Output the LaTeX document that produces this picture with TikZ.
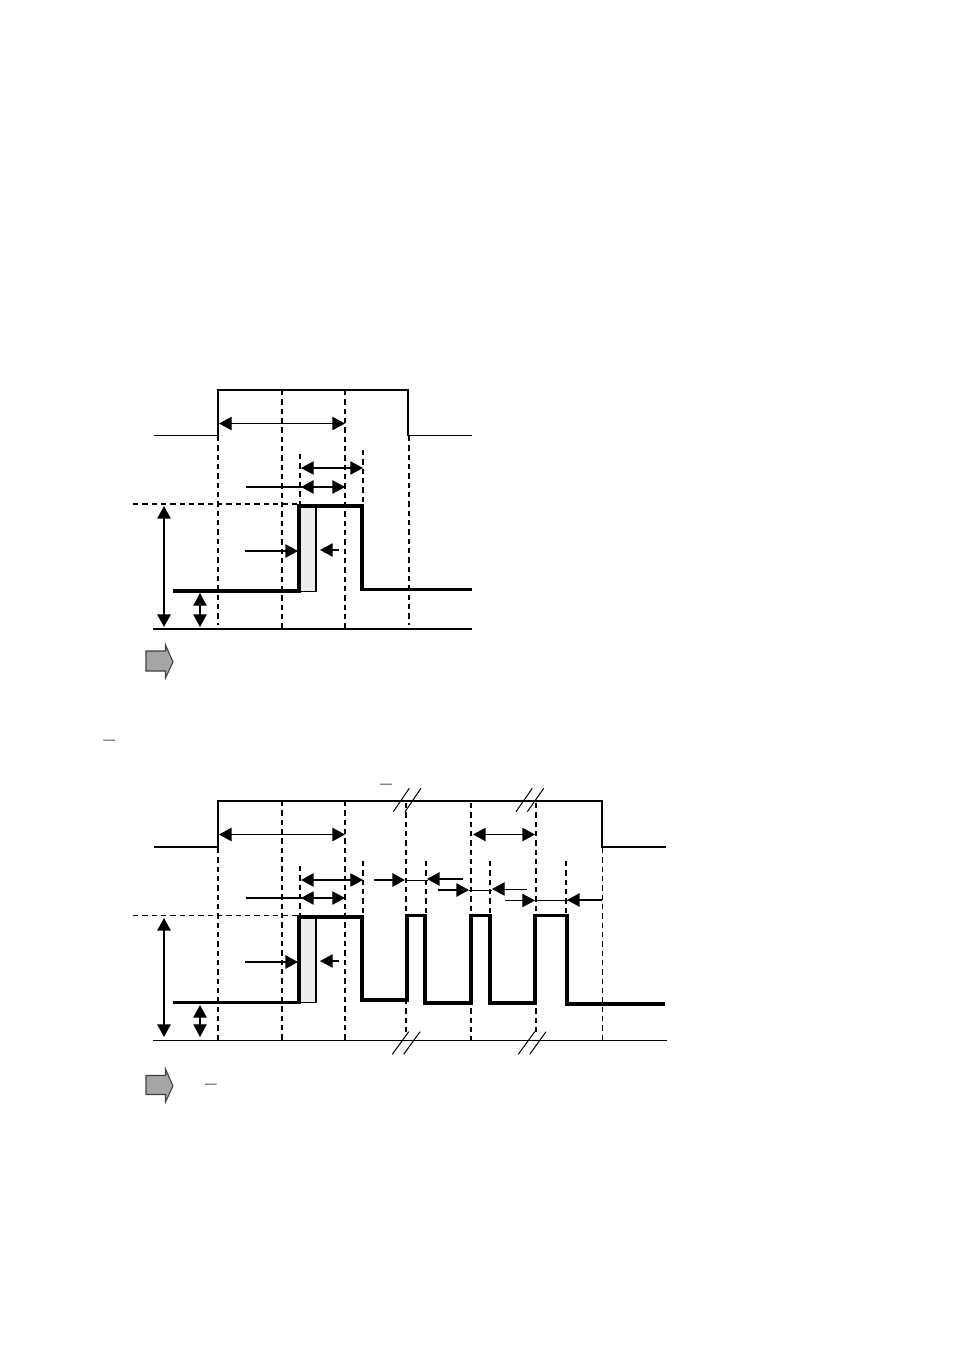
\documentclass[tikz,border=0pt]{standalone}
\usetikzlibrary{arrows.meta}
\tikzset{
  thinline/.style={line width=0.75pt},
  midline/.style={line width=1.35pt},
  pulseline/.style={line width=2.4pt, line join=miter},
  guide/.style={line width=1.2pt, dash pattern=on 4pt off 3pt},
  thinguide/.style={line width=0.7pt, dash pattern=on 4pt off 3pt},
  measure/.style={line width=0.9pt, {Triangle[length=9.5pt,width=10pt]}-{Triangle[length=9.5pt,width=10pt]}},
  pointer/.style={line width=0.9pt, -{Triangle[length=9.5pt,width=10pt]}},
  gatebox/.style={fill=black!7, draw=black, line width=1.2pt},
  blockarrow/.style={fill=black!35, draw=black!75, line width=0.8pt},
  barmark/.style={anchor=base, inner sep=0pt, font=\fontsize{16}{16}\selectfont\bfseries}
}
\begin{document}
\begin{tikzpicture}[x=0.75pt,y=-0.75pt]
  \useasboundingbox (0,0) rectangle (954,1351);
  \fill[white] (0,0) rectangle (954,1351);

  \draw[midline] (154,435.5) -- (218,435.5) -- (218,390) -- (408,390) -- (408,435.5) -- (472,435.5);
  \draw[midline] (153,629) -- (472,629);
  \begin{scope}[guide]
    \draw (218,436) -- (218,625);
    \draw (282,390) -- (282,628);
    \draw (345,390) -- (345,628);
    \draw (409,436) -- (409,625);
    \draw (300,454) -- (300,504);
    \draw (363,450) -- (363,504);
    \draw (133,504) -- (298,504);
  \end{scope}
  \draw[gatebox] (299,506) rectangle (316,591.5);
  \draw[pulseline] (173,591) -- (299,591) -- (299,506) -- (362,506) -- (362,589.5) -- (472,589.5);
  \draw[measure] (219,423.5) -- (345,423.5);
  \draw[measure] (301,468) -- (363,468);
  \draw[measure, midline] (301,487) -- (345,487);
  \draw[midline] (246,487) -- (302,487);
  \draw[pointer, midline] (245,551) -- (298,551);
  \draw[pointer] (339,550) -- (320,550);
  \draw[measure, midline] (164,506) -- (164,627);
  \draw[measure] (200,593) -- (200,627);
  \draw[blockarrow] (146,651) -- (165.5,651) -- (165.5,645) -- (173,662) -- (165.5,678) -- (165.5,671) -- (146,671) -- cycle;

  \draw[midline] (154,847) -- (218,847) -- (218,801) -- (602,801) -- (602,847) -- (666,847);
  \draw[thinline] (153,1040.5) -- (667,1040.5);
  \begin{scope}[guide]
    \draw (218,848) -- (218,1040);
    \draw (282,801) -- (282,1040);
    \draw (345,801) -- (345,1040);
    \draw (406,803) -- (406,1036);
    \draw (471,803) -- (471,1040);
    \draw (536,803) -- (536,1036);
    \draw (300,866) -- (300,915);
    \draw (363,861) -- (363,915);
    \draw (426,861) -- (426,913);
    \draw (490,861) -- (490,913);
    \draw (566,861) -- (566,913);
  \end{scope}
  \begin{scope}[thinguide]
    \draw (602,848) -- (602,1040);
    \draw (133,915) -- (298,915);
  \end{scope}
  \draw[gatebox] (299,917) rectangle (316,1002.5);
  \draw[pulseline] (173,1002.5) -- (299,1002.5) -- (299,917) -- (362,917) -- (362,1000) -- (407,1000) -- (407,915.5) -- (425,915.5) -- (425,1003) -- (471,1003) -- (471,915.5) -- (490,915.5) -- (490,1003) -- (535,1003) -- (535,915.5) -- (567,915.5) -- (567,1004) -- (665,1004);
  \draw[measure, midline] (219,834.5) -- (345,834.5);
  \draw[measure, midline] (473,834.5) -- (535,834.5);
  \draw[measure] (301,880) -- (363,880);
  \draw[measure] (301,898) -- (345,898);
  \draw[midline] (246,898) -- (302,898);
  \draw[pointer, midline] (245,962) -- (298,962);
  \draw[pointer] (339,961) -- (320,961);
  \draw[measure, midline] (164,918) -- (164,1037);
  \draw[measure] (200,1005) -- (200,1037);
  \draw[pointer, midline] (374,880) -- (405,880);
  \draw[thinline] (405,880) -- (428,880);
  \draw[pointer, midline] (463,879) -- (427,879);
  \draw[pointer, midline] (438,890) -- (469,890);
  \draw[thinline] (469,890) -- (492,890);
  \draw[pointer, thinline] (527,889) -- (492,889);
  \draw[pointer, thinline] (505,900.5) -- (535,900.5);
  \draw[thinline] (535,900.5) -- (568,900.5);
  \draw[pointer, midline] (602,900) -- (567,900);
  \begin{scope}[thinline]
    \draw (393.3,811.7) -- (409.3,788.3);
    \draw (405,811.7) -- (421,788.3);
    \draw (516,811.7) -- (532.3,788.3);
    \draw (527.3,811.7) -- (543.7,788.3);
    \draw (392.3,1054.3) -- (408.7,1031.7);
    \draw (403.7,1054.3) -- (420,1031.7);
    \draw (518.3,1054.3) -- (534.7,1031.7);
    \draw (529.7,1054.3) -- (546,1031.7);
  \end{scope}
  \draw[blockarrow] (146,1075.5) -- (165.5,1075.5) -- (165.5,1069) -- (173,1086) -- (165.5,1102) -- (165.5,1094.5) -- (146,1094.5) -- cycle;

  \node[barmark] (bar1) at (109.5,746) {--};
  \node[barmark] (bar2) at (386,790.5) {--};
  \node[barmark] (bar3) at (211,1090) {--};
\end{tikzpicture}
\end{document}
